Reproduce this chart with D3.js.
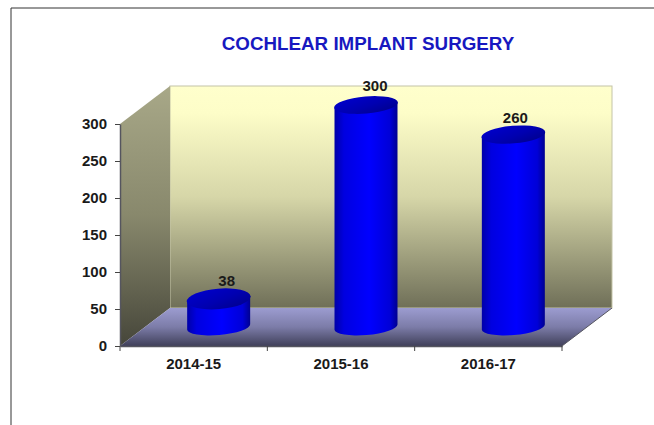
<!DOCTYPE html>
<html>
<head>
<meta charset="utf-8">
<script src="https://cdn.jsdelivr.net/npm/d3@7"></script>
<style>
  html, body { margin: 0; padding: 0; background: #fff; }
  svg { display: block; }
  text { font-family: "Liberation Sans", Arial, sans-serif; font-weight: bold; fill: #1a1a1a; }
</style>
</head>
<body>
<div id="chart"></div>
<script>
const title = "COCHLEAR IMPLANT SURGERY";
const categories = ["2014-15", "2015-16", "2016-17"];
const surgeries = [38, 300, 260];
const yTicks = [0, 50, 100, 150, 200, 250, 300];

const width = 654;
const height = 425;

// front edge of the floor, and how far the back wall is pushed away
const front = { left: 120, right: 562, bottom: 346, top: 124 };
const depth = { x: 50, y: -38 };
const barRx = 31.5;
const tilt = -4.8;

const svg = d3.select("#chart")
  .append("svg")
  .attr("width", width)
  .attr("height", height);

const xScale = d3.scaleBand()
  .domain(categories)
  .range([front.left, front.right]);

const yScale = d3.scaleLinear()
  .domain([0, 300])
  .range([front.bottom, front.top]);

// lower bars show more of their top
const topRy = d3.scaleLinear()
  .domain([0, 300])
  .range([10.5, 8.5]);

// Gradients
const defs = svg.append("defs");

function linearGradient(id, x2, y2, stops) {
  const g = defs.append("linearGradient")
    .attr("id", id)
    .attr("x1", 0).attr("y1", 0)
    .attr("x2", x2).attr("y2", y2);
  stops.forEach(s => g.append("stop").attr("offset", s[0]).attr("stop-color", s[1]));
}

linearGradient("backWall", 0, 1, [[0, "#ffffcc"], [0.12, "#fdfdc8"], [0.5, "#d6d6a8"], [1, "#6f6f58"]]);
linearGradient("sideWall", 0, 1, [[0, "#a8a888"], [0.5, "#88886c"], [1, "#46463a"]]);
linearGradient("floor", 0, 1, [[0, "#9c9cd0"], [0.5, "#7c7ca8"], [1, "#40405a"]]);
linearGradient("cylinder", 1, 0, [[0, "#0000a8"], [0.15, "#0000e0"], [0.55, "#0000ff"], [0.88, "#0000d8"], [1, "#000090"]]);
linearGradient("cylinderTop", 1, 1, [[0, "#0000d0"], [0.55, "#0000b0"], [1, "#000088"]]);

// Frame lines of the pasted slide
svg.append("path")
  .attr("d", d3.line()([[11, height], [11, 8], [width, 8]]))
  .attr("fill", "none")
  .attr("stroke", "#333")
  .attr("stroke-width", 1);

// Walls and floor
const backLeft = front.left + depth.x;
const backRight = front.right + depth.x;
const backBottom = yScale(0) + depth.y;
const backTop = yScale(300) + depth.y;

svg.append("rect")
  .attr("x", backLeft)
  .attr("y", backTop)
  .attr("width", backRight - backLeft)
  .attr("height", backBottom - backTop)
  .attr("fill", "url(#backWall)")
  .attr("stroke", "#c4c4a8")
  .attr("stroke-width", 1);

svg.append("path")
  .attr("d", d3.line()([[front.left, yScale(0)], [front.left, yScale(300)], [backLeft, backTop], [backLeft, backBottom]]) + "Z")
  .attr("fill", "url(#sideWall)");

svg.append("path")
  .attr("d", d3.line()([[front.left, yScale(0)], [backLeft, backBottom], [backRight, backBottom], [front.right, yScale(0)]]) + "Z")
  .attr("fill", "url(#floor)");

// Axes
const yAxis = svg.append("g")
  .attr("transform", `translate(${front.left},0)`)
  .call(d3.axisLeft(yScale).tickValues(yTicks).tickSize(5).tickPadding(8).tickSizeOuter(0));

const xAxis = svg.append("g")
  .attr("transform", `translate(0,${front.bottom})`)
  .call(d3.axisBottom(xScale).tickSize(0).tickPadding(12));

[yAxis, xAxis].forEach(a => {
  a.selectAll("path").attr("stroke", "#55555f").attr("stroke-width", 1.5);
  a.selectAll("line").attr("stroke", "#444");
  a.selectAll("text").style("font-size", "15px").style("font-family", "'Liberation Sans'");
});

// x ticks sit on the band edges
xAxis.selectAll(".edge")
  .data(categories.concat([null]))
  .join("line")
  .attr("class", "edge")
  .attr("x1", (d, i) => front.left + i * xScale.bandwidth())
  .attr("x2", (d, i) => front.left + i * xScale.bandwidth())
  .attr("y1", 0)
  .attr("y2", 5)
  .attr("stroke", "#444");

// side wall to floor edge running back on the right
svg.append("line")
  .attr("x1", front.right)
  .attr("y1", yScale(0))
  .attr("x2", backRight)
  .attr("y2", backBottom)
  .attr("stroke", "#55555f")
  .attr("stroke-width", 1);

// Cylinders
const barX = d => xScale(d) + xScale.bandwidth() / 2 + depth.x / 2;
const barBase = yScale(0) + depth.y / 2;
const barTop = v => barBase - (yScale(0) - yScale(v));
const baseRy = 8;

function cylinderPath(cat, v) {
  const cx = barX(cat);
  const dy = Math.tan(tilt * Math.PI / 180) * barRx;
  const ty = barTop(v);
  return `M${cx - barRx},${ty - dy}` +
    `L${cx - barRx},${barBase - dy}` +
    `A${barRx},${baseRy} ${tilt} 0 0 ${cx + barRx},${barBase + dy}` +
    `L${cx + barRx},${ty + dy}Z`;
}

const bars = svg.append("g")
  .selectAll("g")
  .data(categories)
  .join("g");

bars.append("path")
  .attr("d", (d, i) => cylinderPath(d, surgeries[i]))
  .attr("fill", "url(#cylinder)");

bars.append("ellipse")
  .attr("cx", 0)
  .attr("cy", 0)
  .attr("rx", barRx + 0.5)
  .attr("ry", (d, i) => topRy(surgeries[i]))
  .attr("transform", (d, i) => `translate(${barX(d)},${barTop(surgeries[i])}) rotate(${tilt})`)
  .attr("fill", "url(#cylinderTop)");

// Value labels
const labelShift = [8, 9, 2];
const labelLift = [13, 14, 12];

bars.append("text")
  .attr("x", (d, i) => barX(d) + labelShift[i])
  .attr("y", (d, i) => barTop(surgeries[i]) - labelLift[i])
  .attr("text-anchor", "middle")
  .style("font-size", "15px")
  .text((d, i) => surgeries[i]);

svg.append("text")
  .attr("x", 368)
  .attr("y", 50)
  .attr("text-anchor", "middle")
  .style("font-size", "18.8px")
  .style("fill", "#1818c0")
  .text(title);
</script>
</body>
</html>
